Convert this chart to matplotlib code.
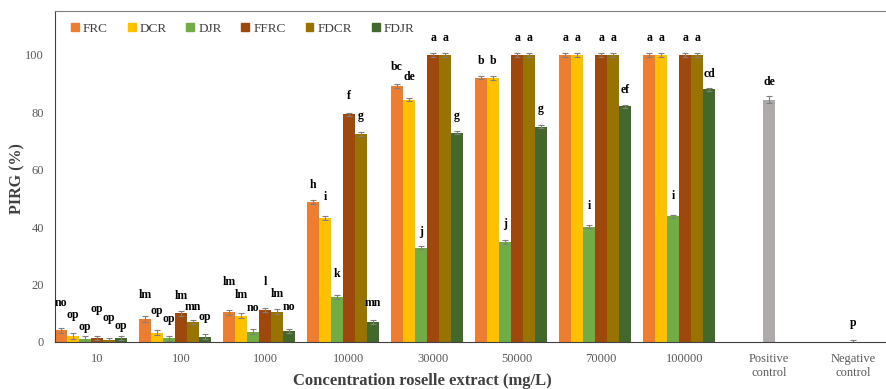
import numpy as np
import matplotlib.pyplot as plt
from matplotlib.patches import Patch

plt.rcParams['font.family'] = ['Liberation Serif', 'DejaVu Serif']

groups = ['10', '100', '1000', '10000', '30000', '50000', '70000', '100000']
series = ['FRC', 'DCR', 'DJR', 'FFRC', 'FDCR', 'FDJR']
colors = ['#ED7D31', '#FFC000', '#70AD47', '#9E480E', '#997300', '#43682B']

FRC = [4.0, 8.0, 10.3, 48.7, 89.2, 92.1, 100, 100]
DCR = [2.0, 3.2, 9.2, 43.1, 84.4, 91.9, 100, 100]
DJR = [1.0, 1.3, 3.5, 15.6, 32.8, 34.8, 40.2, 43.7]
FFRC = [1.3, 10.0, 11.2, 79.3, 100, 100, 100, 100]
FDCR = [0.8, 7.0, 10.5, 72.4, 100, 100, 100, 100]
FDJR = [1.4, 1.8, 3.8, 6.9, 72.9, 75.0, 82.0, 88.0]
values = [FRC, DCR, DJR, FFRC, FDCR, FDJR]

err_FRC = [0.9, 0.9, 0.8, 0.6, 0.6, 0.6, 0.6, 0.6]
err_DCR = [1.1, 0.9, 0.8, 0.6, 0.6, 0.6, 0.6, 0.6]
err_DJR = [0.9, 0.9, 0.9, 0.7, 0.6, 0.6, 0.6, 0.6]
err_FFRC = [0.8, 0.8, 0.7, 0.6, 0.6, 0.6, 0.6, 0.6]
err_FDCR = [0.7, 0.8, 0.8, 0.6, 0.6, 0.6, 0.6, 0.6]
err_FDJR = [0.7, 0.9, 0.7, 0.7, 0.6, 0.6, 0.6, 0.6]
errors = [err_FRC, err_DCR, err_DJR, err_FFRC, err_FDCR, err_FDJR]

lab_FRC = ['no', 'lm', 'lm', 'h', 'bc', 'b', 'a', 'a']
lab_DCR = ['op', 'op', 'lm', 'i', 'de', 'b', 'a', 'a']
lab_DJR = ['op', 'op', 'no', 'k', 'j', 'j', 'i', 'i']
lab_FFRC = ['op', 'lm', 'l', 'f', 'a', 'a', 'a', 'a']
lab_FDCR = ['op', 'mn', 'lm', 'g', 'a', 'a', 'a', 'a']
lab_FDJR = ['op', 'op', 'no', 'mn', 'g', 'g', 'ef', 'cd']
letters = [lab_FRC, lab_DCR, lab_DJR, lab_FFRC, lab_FDCR, lab_FDJR]

# height of the letter labels (centre, in % units)
labh_FRC = [13.6, 16.4, 21.0, 54.7, 95.7, 97.9, 105.8, 105.8]
labh_DCR = [9.4, 10.9, 16.4, 50.6, 92.4, 97.9, 105.8, 105.8]
labh_DJR = [5.3, 7.9, 11.9, 23.6, 38.4, 41.0, 47.4, 50.9]
labh_FFRC = [11.5, 16.1, 20.7, 85.5, 105.8, 105.8, 105.8, 105.8]
labh_FDCR = [8.5, 12.3, 16.8, 78.7, 105.8, 105.8, 105.8, 105.8]
labh_FDJR = [5.7, 8.8, 12.3, 13.7, 78.7, 81.3, 87.6, 93.4]
lab_heights = [labh_FRC, labh_DCR, labh_DJR, labh_FFRC, labh_FDCR, labh_FDJR]

controls = ['Positive\ncontrol', 'Negative\ncontrol']
control_values = [84.4, 0.0]
control_errors = [1.2, 0.5]
control_letters = ['de', 'p']
control_lab_heights = [90.5, 6.5]

fig, ax = plt.subplots(figsize=(8.86, 3.89), dpi=100)
fig.subplots_adjust(left=0.062, right=1.0, bottom=0.121, top=0.972)

w = 1 / 7
x = np.arange(len(groups))
for k in range(len(series)):
    pos = x + (k - 3) * w
    ax.bar(pos, values[k], width=w, color=colors[k], label=series[k])
    ax.errorbar(pos, values[k], yerr=errors[k], fmt='none', ecolor='#7f7f7f',
                elinewidth=0.8, capsize=2, capthick=0.8)
    for p, t, h in zip(pos, letters[k], lab_heights[k]):
        ax.text(p, h, t, ha='center', va='center', fontsize=8.5, fontweight='bold')

xc = np.arange(len(groups), len(groups) + len(controls))
ax.bar(xc, control_values, width=w, color='#AEAAAA')
ax.errorbar(xc, control_values, yerr=control_errors, fmt='none', ecolor='#7f7f7f',
            elinewidth=0.8, capsize=2, capthick=0.8)
for p, t, h in zip(xc, control_letters, control_lab_heights):
    ax.text(p, h, t, ha='center', va='center', fontsize=8.5, fontweight='bold')

ax.set_xlim(-0.5, 9.39)
ax.set_ylim(0, 115.3)
ax.set_yticks(range(0, 101, 20))
ax.set_xticks(list(x) + list(xc))
ax.set_xticklabels(groups + controls)
ax.tick_params(length=0, labelsize=9, colors='#595959', pad=8)

for s in ['left', 'bottom']:
    ax.spines[s].set_color('#404040')
ax.spines['top'].set_color('#7f7f7f')
ax.spines['right'].set_visible(False)

fig.text(0.02, 0.54, 'PIRG (%)', fontsize=11.5, fontweight='bold', color='#404040',
         rotation=90, ha='center', va='center')
fig.text(0.477, 0.021, 'Concentration roselle extract (mg/L)', fontsize=12,
         fontweight='bold', color='#404040', ha='center', va='center')

handles = [Patch(color=c) for c in colors]
ax.legend(handles, series, ncol=6, loc='upper left', bbox_to_anchor=(0.005, 1.0),
          frameon=False, handlelength=0.6, handleheight=0.6, handletextpad=0.3,
          columnspacing=1.5, prop={'size': 9.5}, labelcolor='#404040')

plt.savefig('out.png')
